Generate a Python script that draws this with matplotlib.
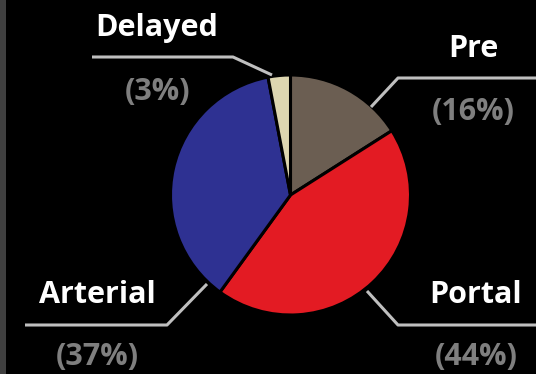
import matplotlib
matplotlib.use("Agg")
import matplotlib.pyplot as plt
from matplotlib.patches import Rectangle

categories = ["Pre", "Portal", "Arterial", "Delayed"]
values = [16, 44, 37, 3]
pct_labels = ["(16%)", "(44%)", "(37%)", "(3%)"]
colors = ["#6B5E52", "#E31B23", "#2E3192", "#DDD6B0"]

W, H = 536, 374
fig = plt.figure(figsize=(W / 100, H / 100), dpi=100, facecolor="black")
ax = fig.add_axes([0, 0, 1, 1])
ax.set_facecolor("black")

# left dark strip
ax.add_patch(Rectangle((0, 0), 6, H, facecolor="#404040", edgecolor="none", zorder=0))

cx, cy, r = 290.5, H - 195, 120
ax.pie(values, colors=colors, startangle=90, counterclock=False,
       center=(cx, cy), radius=r, frame=True,
       wedgeprops=dict(edgecolor="black", linewidth=2.2))
ax.set_xlim(0, W)
ax.set_ylim(0, H)
ax.set_aspect("equal")
ax.axis("off")

font = ["Open Sans", "DejaVu Sans"]
fs = 22
line_col = "#BFBFBF"

# label layout: (name pos, pct pos, leader polyline)  in pixel coords (y down)
layout = {
    "Pre": ((473, 49), (473, 112), [(371, 107), (398, 78), (536, 78)]),
    "Portal": ((476, 295), (476, 357), [(367, 291), (398, 325), (536, 325)]),
    "Arterial": ((97, 295), (97, 357), [(207, 284), (167, 325), (25, 325)]),
    "Delayed": ((157, 28), (158, 92), [(272, 75), (233, 57), (92, 57)]),
}

for cat, pct in zip(categories, pct_labels):
    (nx, ny), (px, py), pts = layout[cat]
    xs = [p[0] for p in pts]
    ys = [H - p[1] for p in pts]
    ax.plot(xs, ys, color=line_col, linewidth=2.2, solid_capstyle="butt", zorder=5)
    ax.text(nx, H - ny, cat, color="white", fontsize=fs, fontweight="bold",
            family=font, ha="center", va="center", zorder=6)
    ax.text(px, H - py, pct, color="#7F7F7F", fontsize=fs, fontweight="bold",
            family=font, ha="center", va="center", zorder=6)

fig.savefig("out.png", dpi=100, facecolor="black")
